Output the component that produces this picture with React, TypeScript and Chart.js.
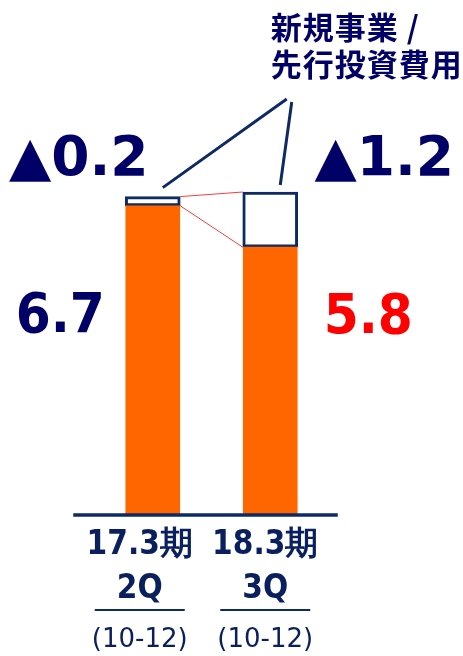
import { useEffect, useRef } from 'react';
import { Chart, registerables } from 'chart.js';

Chart.register(...registerables);

// ---- data ----
const categories = ['17.3期 2Q', '18.3期 3Q'];
const periodLabels = ['17.3期', '18.3期'];
const quarterLabels = ['2Q', '3Q'];
const monthLabels = ['(10-12)', '(10-12)'];
const profitValues = [6.7, 5.8];
const investmentValues = [0.2, 1.2];
const annotationLines = ['新規事業 /', '先行投資費用'];

// ---- styles ----
const ORANGE = '#FF6600';
const NAVY_TEXT = '#000066';
const NAVY_LABEL = '#0A1F5E';
const NAVY_LINE = '#0E2A64';
const RED = '#FF0000';
const NUM_FONT = "'DejaVu Sans Condensed', 'DejaVu Sans', sans-serif";
const WIDE_FONT = "'DejaVu Sans', sans-serif";
const CJK_FONT = "'Noto Sans CJK JP', sans-serif";

export default function App() {
  const ref = useRef<HTMLCanvasElement>(null);

  useEffect(() => {
    if (!ref.current) return;

    const overlay = {
      id: 'overlay',
      afterDatasetsDraw(chart: any) {
        const ctx = chart.ctx as CanvasRenderingContext2D;
        const profitBars = chart.getDatasetMeta(0).data as any[];
        const boxBars = chart.getDatasetMeta(1).data as any[];
        const b1 = boxBars[0];
        const b2 = boxBars[1];
        const area = chart.chartArea;
        ctx.save();

        // red connectors between the two boxes
        ctx.strokeStyle = '#FF3B3B';
        ctx.lineWidth = 1;
        ctx.beginPath();
        ctx.moveTo(b1.x + b1.width / 2, b1.y);
        ctx.lineTo(b2.x - b2.width / 2, b2.y);
        ctx.moveTo(b1.x + b1.width / 2, b1.base);
        ctx.lineTo(b2.x - b2.width / 2, b2.base);
        ctx.stroke();

        // baseline
        ctx.strokeStyle = NAVY_LINE;
        ctx.lineWidth = 3.5;
        ctx.beginPath();
        ctx.moveTo(profitBars[0].x - 79.5, area.bottom + 1);
        ctx.lineTo(profitBars[1].x + 67.5, area.bottom + 1);
        ctx.stroke();

        // annotation text
        const tx = b2.x + 0.5;
        ctx.fillStyle = NAVY_TEXT;
        ctx.font = `bold 31px ${CJK_FONT}`;
        (ctx as any).letterSpacing = '1px';
        ctx.textAlign = 'left';
        ctx.textBaseline = 'middle';
        ctx.fillText(annotationLines[0], tx, 27);
        ctx.fillText(annotationLines[1], tx, 64);
        (ctx as any).letterSpacing = '0px';

        // callout lines
        ctx.strokeStyle = NAVY_LINE;
        ctx.lineWidth = 3;
        ctx.beginPath();
        ctx.moveTo(tx + 16, 99);
        ctx.lineTo(b1.x + 10, b1.y - 9);
        ctx.moveTo(tx + 21, 102);
        ctx.lineTo(b2.x + 10, b2.y - 7);
        ctx.stroke();

        // value labels
        ctx.textAlign = 'center';
        ctx.textBaseline = 'alphabetic';
        ctx.font = `bold 55px ${WIDE_FONT}`;
        ctx.fillStyle = NAVY_TEXT;
        ctx.fillText('▲' + investmentValues[0].toFixed(1), b1.x - 74, 175);
        ctx.fillText('▲' + investmentValues[1].toFixed(1), b2.x + 114, 175);
        ctx.font = `bold 56px ${NUM_FONT}`;
        ctx.fillStyle = NAVY_TEXT;
        ctx.fillText(profitValues[0].toFixed(1), profitBars[0].x - 92.5, 332);
        ctx.fillStyle = RED;
        ctx.fillText(profitValues[1].toFixed(1), profitBars[1].x + 98, 333);

        // category labels
        const shifts = [-13, -5];
        profitBars.forEach((bar: any, i: number) => {
          const cx = bar.x + shifts[i];
          ctx.fillStyle = NAVY_LABEL;
          ctx.font = `bold 33px ${NUM_FONT}`;
          ctx.fillText(periodLabels[i], cx, 554);
          ctx.fillText(quarterLabels[i], cx, 598);
          ctx.strokeStyle = NAVY_LINE;
          ctx.lineWidth = 2;
          ctx.beginPath();
          ctx.moveTo(cx - 45, 610);
          ctx.lineTo(cx + 45, 610);
          ctx.stroke();
          ctx.font = `26px ${WIDE_FONT}`;
          ctx.fillText(monthLabels[i], cx, 647);
        });

        ctx.restore();
      },
    };

    const chart = new Chart(ref.current, {
      type: 'bar',
      data: {
        labels: categories,
        datasets: [
          {
            data: profitValues,
            backgroundColor: ORANGE,
            borderWidth: 0,
            stack: 's',
            barThickness: 54,
          },
          {
            data: investmentValues,
            backgroundColor: '#FFFFFF',
            borderColor: NAVY_LINE,
            borderWidth: 3,
            borderSkipped: false,
            stack: 's',
            barThickness: 55,
          },
        ],
      },
      options: {
        responsive: false,
        animation: false,
        devicePixelRatio: 1,
        layout: { padding: { left: 94, right: 134, top: 54, bottom: 142 } },
        plugins: {
          legend: { display: false },
          tooltip: { enabled: false },
        },
        scales: {
          x: { display: false, stacked: true },
          y: { display: false, stacked: true, min: 0, max: 10 },
        },
      },
      plugins: [overlay],
    } as any);

    return () => chart.destroy();
  }, []);

  return (
    <div style={{ position: 'absolute', left: 0, top: 0, width: 463, height: 656, background: '#fff' }}>
      <canvas ref={ref} width={463} height={656} style={{ width: 463, height: 656, display: 'block' }} />
    </div>
  );
}
